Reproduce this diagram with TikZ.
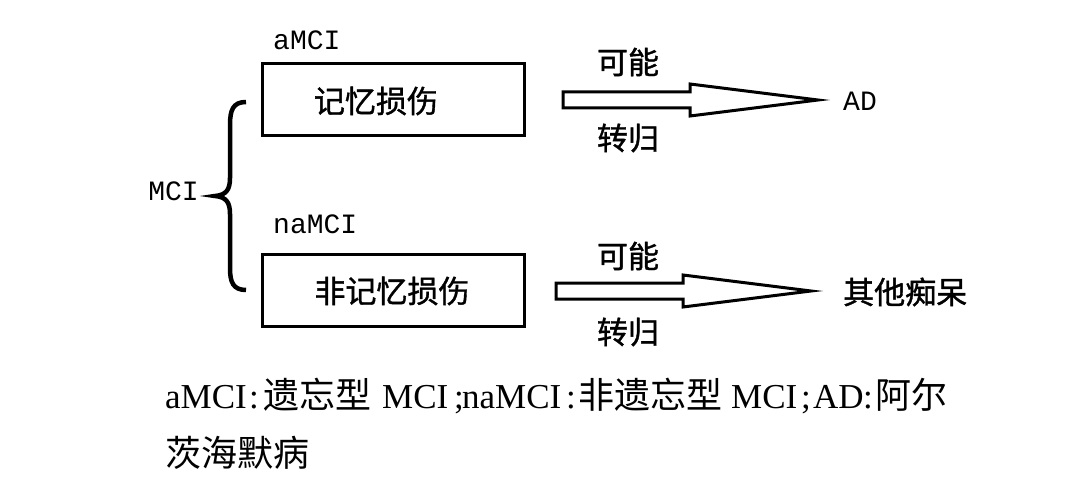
\documentclass[tikz,border=0pt]{standalone}
\usepackage{fontspec}
\setmainfont{Liberation Serif}
\newfontfamily\cjk{Noto Sans CJK SC}[FakeBold=1.2]
\newfontfamily\cjkcap{Noto Sans CJK SC}
\newfontfamily\mono{Liberation Mono}
\newcommand\cc[1]{{\cjkcap\fontsize{36}{40}\selectfont #1}}
\newcommand\pc[2]{\makebox[#1pt][l]{#2}}
\begin{document}
\begin{tikzpicture}[x=1pt,y=-1pt,
  mybox/.style={draw,line width=3pt,minimum width=262pt,minimum height=72pt,inner sep=0pt},
  cntext/.style={font=\cjk\fontsize{31}{32}\selectfont,inner sep=0pt},
  lattext/.style={font=\mono\fontsize{28}{29}\selectfont,inner sep=0pt},
  captext/.style={font=\fontsize{35}{40}\selectfont,inner sep=0pt,anchor=base west},
  fatarrow/.pic={\draw[line width=3pt,fill=white,line join=miter]
     (0,-8) -- (127,-8) -- (127,-16) -- (255,0) -- (127,16) -- (127,8) -- (0,8) -- cycle;}]
\useasboundingbox (0,0) rectangle (1080,492);
\fill[white] (0,0) rectangle (1080,492);
% boxes
\node[mybox] (b1) at (393,100) {};
\node[mybox] (b2) at (393,290) {};
\node[cntext] (t1) at (376,101) {记忆损伤};
\node[cntext] (t2) at (392,291) {非记忆损伤};
\node[lattext,anchor=west] (l1) at (273,40) {aMCI};
\node[lattext,anchor=west] (l2) at (273,224) {naMCI};
\node[lattext,anchor=east] (mci) at (199,191) {MCI};
% brace
\draw[line width=4.5pt] (246,102) .. controls (233,102) and (230,110) .. (230,125) -- (230,178)
  .. controls (230,190) and (226,195) .. (215,196)
  .. controls (226,197) and (230,202) .. (230,214) -- (230,268)
  .. controls (230,282) and (233,290) .. (246,290);
% arrows
\coordinate (a1) at (563,100);
\coordinate (a2) at (556,291);
\pic at (a1) {fatarrow};
\pic at (a2) {fatarrow};
\node[cntext] (k1) at (628,62) {可能};
\node[cntext] (z1) at (628,138) {转归};
\node[cntext] (k2) at (628,256) {可能};
\node[cntext] (z2) at (628,332) {转归};
\node[lattext,anchor=west] (ad) at (843,101) {AD};
\node[cntext,anchor=west] (qt) at (843,292) {其他痴呆};
% caption
\node[captext] (cap1) at (165,408) {\pc{84}{aMCI}\pc{14}{:}\pc{119}{\cc{遗忘型}}\pc{72}{MCI}\pc{8}{;}\pc{104}{naMCI}\pc{12}{:}\pc{153}{\cc{非遗忘型}}\pc{70}{MCI}\pc{12}{;}\pc{50}{AD}\pc{12}{:}\cc{阿尔}};
\node[captext] (cap2) at (165,466) {\cc{茨海默病}};
\end{tikzpicture}
\end{document}
